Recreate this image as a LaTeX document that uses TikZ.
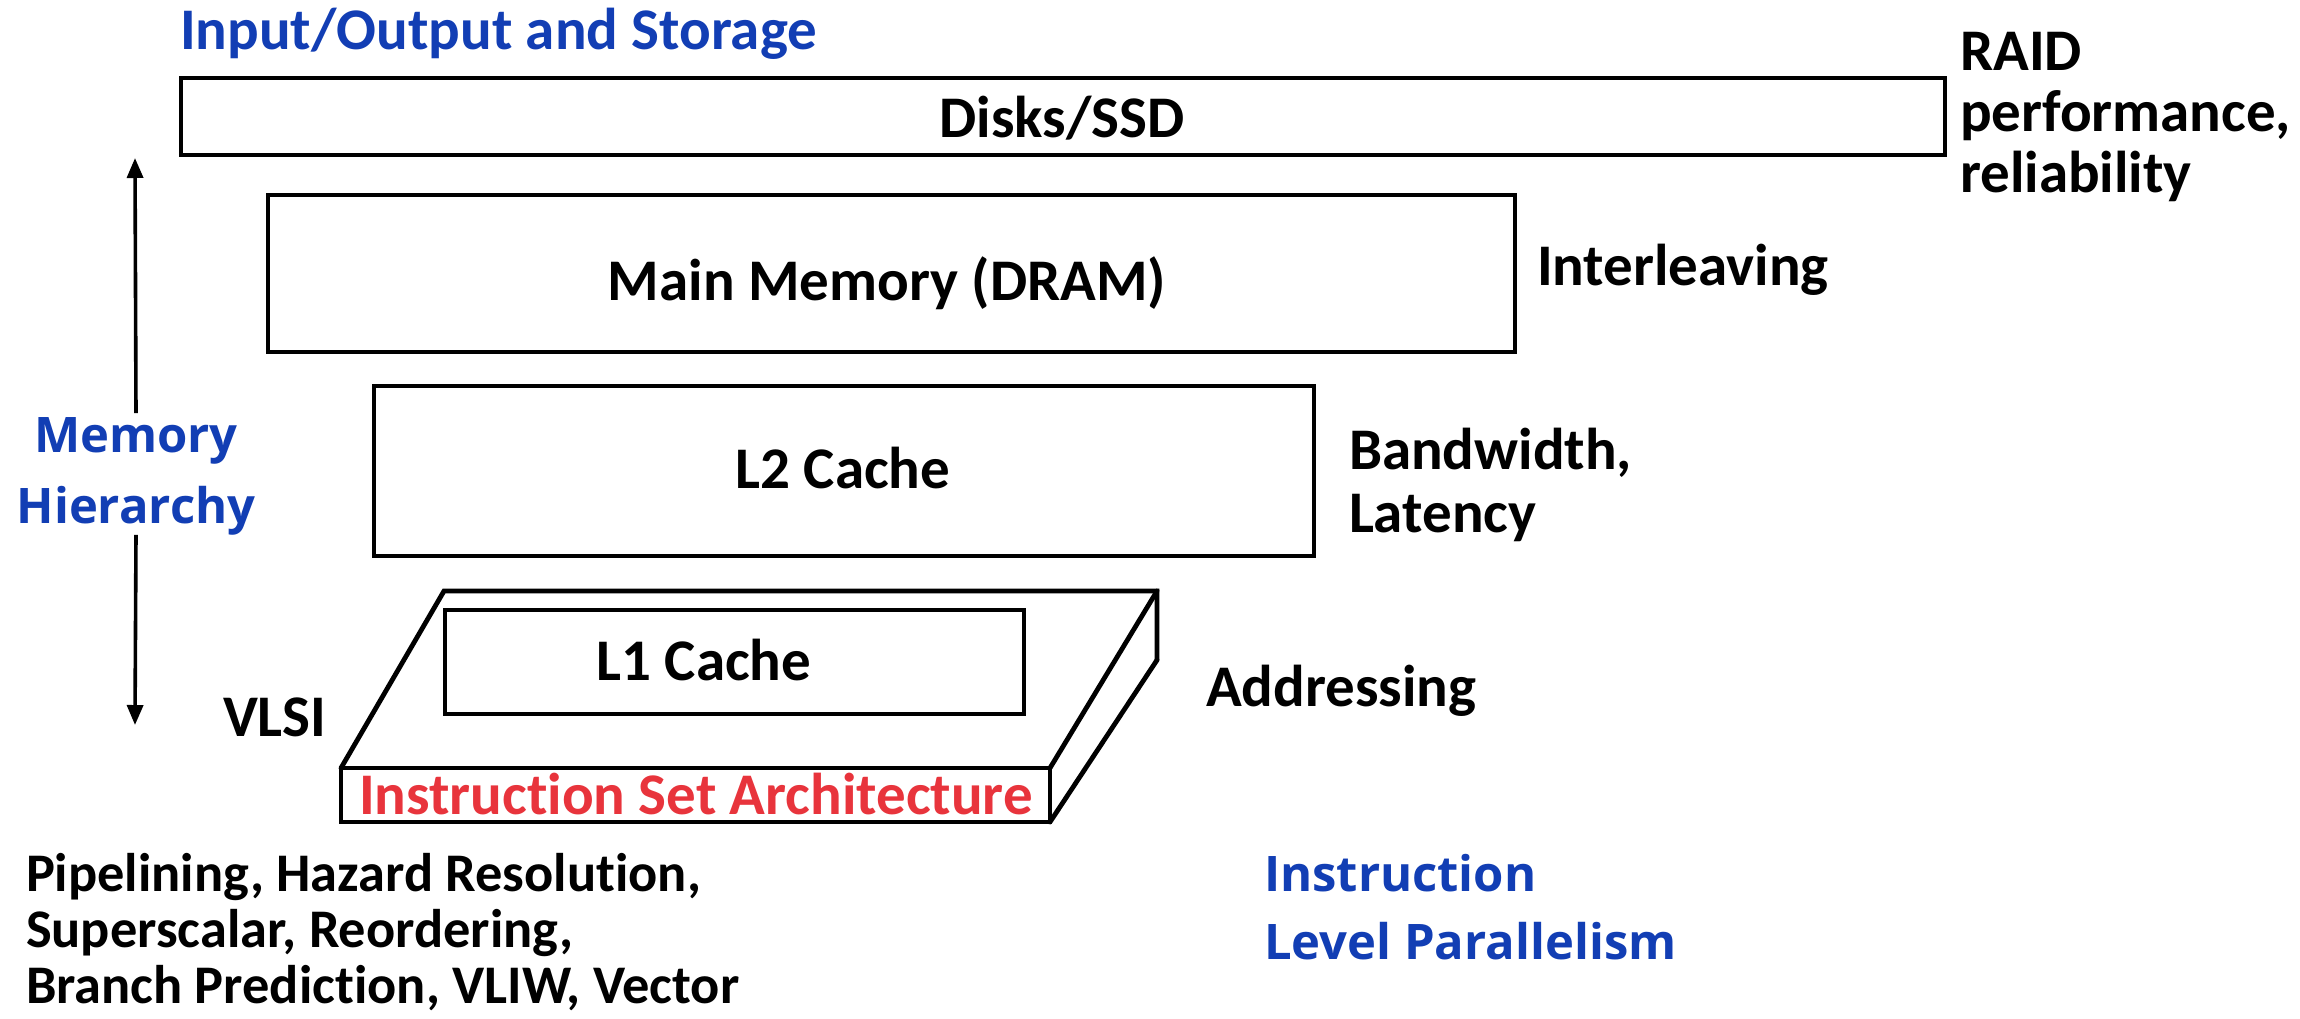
\documentclass[tikz,border=0pt]{standalone}
\usepackage{fontspec}
\setmainfont{Carlito}[Ligatures=NoCommon]
\newfontfamily\vfont{Open Sans}
\usetikzlibrary{arrows.meta}
\definecolor{hblue}{RGB}{18,62,180}
\definecolor{hred}{RGB}{232,52,60}
\begin{document}
\begin{tikzpicture}[x=0.5pt,y=-0.5pt,
  every node/.style={inner sep=0pt, outer sep=0pt},
  txt/.style={font=\bfseries\fontsize{29.5pt}{31pt}\selectfont},
  box/.style={draw, line width=2.4pt, txt},
  slab/.style={line width=2.4pt, line cap=round},
  lab/.style={txt, anchor=west, align=left},
  vlab/.style={text=hblue, align=left, font=\vfont\bfseries\fontsize{24.5pt}{34pt}\selectfont},
  arr/.style={line width=1.8pt, -{Triangle[width=8pt,length=10pt]}}]
\useasboundingbox (0,0) rectangle (2300,1018);
% boxes
\node[box, minimum width=882pt, minimum height=38.5pt] (disks) at (1063,116.5) {};
\node[txt] (diskst) at (1062,118) {Disks/SSD};
\node[box, minimum width=623.5pt, minimum height=78.5pt] (dram) at (891.5,273.5) {};
\node[txt] (dramt) at (887,283) {Main Memory (DRAM)};
\node[box, minimum width=470pt, minimum height=85pt] (l2) at (844,471) {};
\node[txt] (l2t) at (843,468) {L2 Cache};
\node[box, minimum width=289.5pt, minimum height=52pt] (l1) at (734.5,662) {};
\node[txt] (l1t) at (704,660) {L1 Cache};
\node[box, minimum width=354.5pt, minimum height=27pt] (isa) at (695.5,795) {};
\node[txt, text=hred] (isat) at (696,794) {Instruction Set Architecture};
% slab
\coordinate (tbl) at (444,591);
\coordinate (tbr) at (1157,591);
\coordinate (tbr2) at (1157,660);
\draw[slab] (isa.north west) -- (tbl) -- (tbr) -- (tbr2);
\draw[slab] (tbr) -- (isa.north east);
\draw[slab] (tbr2) -- (isa.south east);
% memory hierarchy arrow
\node[vlab, align=center, font=\vfont\bfseries\fontsize{24.5pt}{35.5pt}\selectfont] (mh) at (136,476) {Memory\\Hierarchy};
\coordinate (atop) at (135,158);
\coordinate (abot) at (135,725);
\draw[arr] ([yshift=2pt]mh.north) -- (atop);
\draw[arr] (mh.south) -- (abot);
% labels
\node[txt, text=hblue, anchor=west] (io) at (180,34) {Input/Output and Storage};
\node[lab, font=\bfseries\fontsize{29.5pt}{30.5pt}\selectfont] (raid) at (1960,117) {RAID\\performance,\\reliability};
\node[lab] (inter) at (1537,270) {Interleaving};
\node[lab, font=\bfseries\fontsize{29.5pt}{31.5pt}\selectfont] (bw) at (1349,485) {Bandwidth,\\Latency};
\node[lab] (vlsi) at (223,717) {VLSI};
\node[lab] (addr) at (1206,691) {Addressing};
\node[lab, font=\bfseries\fontsize{27.2pt}{28pt}\selectfont] (pipe) at (26,932) {Pipelining, Hazard Resolution,\\Superscalar, Reordering,\\Branch Prediction, VLIW, Vector};
\node[vlab, anchor=west] (ilp) at (1264,907) {Instruction\\Level Parallelism};
\end{tikzpicture}
\end{document}
